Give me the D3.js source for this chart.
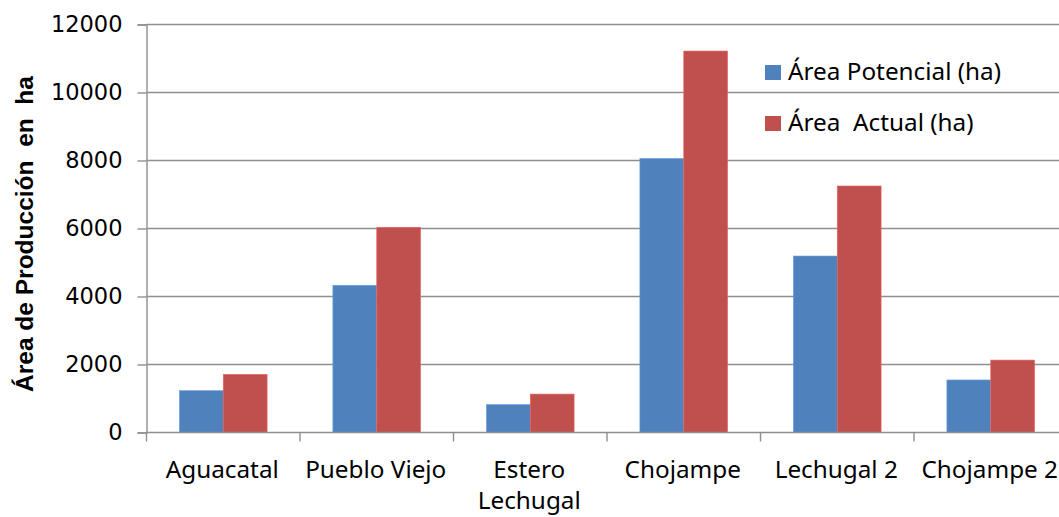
<!DOCTYPE html>
<html>
<head>
<meta charset="utf-8">
<script src="https://cdn.jsdelivr.net/npm/d3@7"></script>
<style>
  html, body { margin: 0; padding: 0; background: #fff; overflow: hidden; }
  svg { display: block; }
</style>
</head>
<body>
<svg id="chart" width="1059" height="517"></svg>
<script>
// Production area per site (ha)
const categories = ["Aguacatal", "Pueblo Viejo", "Estero Lechugal", "Chojampe", "Lechugal 2", "Chojampe 2"];
const categoryLines = [["Aguacatal"], ["Pueblo Viejo"], ["Estero", "Lechugal"], ["Chojampe"], ["Lechugal 2"], ["Chojampe 2"]];
const seriesNames = ["Área Potencial (ha)", "Área  Actual (ha)"];
const potencial = [1230, 4330, 820, 8060, 5190, 1545];
const actual = [1710, 6035, 1130, 11220, 7250, 2130];
const yTicks = [0, 2000, 4000, 6000, 8000, 10000, 12000];
const colors = ["#4F81BD", "#C0504D"];

const svg = d3.select("#chart");
const plotLeft = 146.5, plotTop = 24.5, plotBottom = 432.5, bandW = 153.5;
const plotRight = plotLeft + bandW * categories.length;
const gridColor = "#8f8f8f";
const labelFont = "Noto Sans";

const x = d3.scaleBand().domain(categories).range([plotLeft, plotRight]).paddingInner(0).paddingOuter(0);
const y = d3.scaleLinear().domain([0, 12000]).range([plotBottom, plotTop]);
// two bars per group, gap between groups = 1.5 bar widths
const barW = bandW / 3.5;
const xs = d3.scaleBand().domain(seriesNames).range([0.75 * barW, 2.75 * barW]).padding(0);

// gridlines
svg.append("g").selectAll("line").data(yTicks.slice(1)).join("line")
  .attr("x1", plotLeft).attr("x2", plotRight)
  .attr("y1", d => y(d)).attr("y2", d => y(d))
  .attr("stroke", gridColor).attr("stroke-width", 1.4);

// bars
const rows = categories.map((c, i) => ({ c, vals: [potencial[i], actual[i]] }));
const groups = svg.append("g").selectAll("g").data(rows).join("g")
  .attr("transform", d => `translate(${x(d.c)},0)`);
groups.selectAll("rect").data(d => d.vals.map((v, j) => ({ v, j }))).join("rect")
  .attr("x", d => xs(seriesNames[d.j]))
  .attr("width", xs.bandwidth())
  .attr("y", d => y(d.v))
  .attr("height", d => plotBottom - y(d.v))
  .attr("fill", d => colors[d.j])
  .attr("stroke", d => d3.color(colors[d.j]).brighter(0.6))
  .attr("stroke-width", 0.6);

// y axis
const yAxis = svg.append("g").attr("transform", `translate(${plotLeft},0)`)
  .call(d3.axisLeft(y).tickValues(yTicks).tickSize(9).tickPadding(15).tickFormat(d3.format("d")));
yAxis.select(".domain").attr("stroke", gridColor).attr("stroke-width", 1.4);
yAxis.selectAll(".tick line").attr("stroke", gridColor).attr("stroke-width", 1.4);
yAxis.selectAll("text").attr("font-family", "DejaVu Sans").attr("font-size", 22.5).attr("fill", "#000");

// x axis
const xAxis = svg.append("g").attr("transform", `translate(0,${plotBottom})`);
xAxis.append("line").attr("x1", plotLeft).attr("x2", plotRight).attr("stroke", gridColor).attr("stroke-width", 1.4);
xAxis.selectAll("line.tk").data(d3.range(categories.length + 1)).join("line").attr("class", "tk")
  .attr("x1", i => plotLeft + i * bandW).attr("x2", i => plotLeft + i * bandW)
  .attr("y1", 0).attr("y2", 9).attr("stroke", gridColor).attr("stroke-width", 1.4);
const lbl = xAxis.selectAll("text").data(categories).join("text")
  .attr("x", d => x(d) + x.bandwidth() / 2 - 1)
  .attr("y", 45)
  .attr("text-anchor", "middle")
  .attr("font-family", labelFont).attr("font-size", 24.3).attr("fill", "#000");
lbl.selectAll("tspan").data((d, i) => categoryLines[i]).join("tspan")
  .attr("x", function () { return d3.select(this.parentNode).attr("x"); })
  .attr("dy", (d, i) => i === 0 ? 0 : 31)
  .text(d => d);

// y axis title
svg.append("text")
  .attr("transform", "translate(33,234) rotate(-90)")
  .attr("text-anchor", "middle")
  .attr("font-family", "Liberation Sans").attr("font-weight", "bold").attr("font-size", 24.5)
  .attr("fill", "#000").style("white-space", "pre")
  .text("Área de Producción  en  ha");

// legend
const legend = svg.append("g").selectAll("g").data(seriesNames).join("g")
  .attr("transform", (d, i) => `translate(765,${65 + i * 51})`);
legend.append("rect").attr("width", 16).attr("height", 15).attr("fill", (d, i) => colors[i]);
legend.append("text").attr("x", 23).attr("y", 15)
  .attr("font-family", labelFont).attr("font-size", 24.3).attr("fill", "#000")
  .style("white-space", "pre").text(d => d);
</script>
</body>
</html>
